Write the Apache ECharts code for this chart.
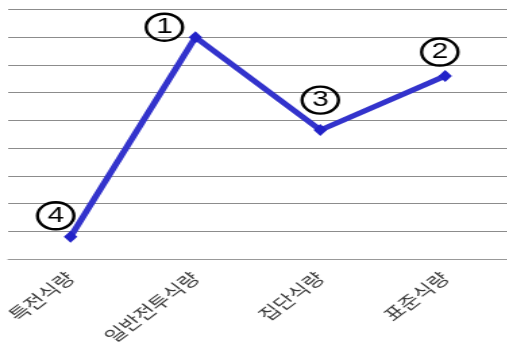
<!DOCTYPE html>
<html>
<head>
<meta charset="utf-8">
<script src="https://cdn.jsdelivr.net/npm/echarts@6/dist/echarts.min.js"></script>
<style>
html, body { margin: 0; padding: 0; background: #fff; overflow: hidden; width: 507px; height: 351px; }
#wrap { width: 507px; height: 351px; overflow: hidden; }
#chart { width: 376px; height: 351px; transform: scaleX(1.35); transform-origin: 0 0; }
</style>
</head>
<body>
<div id="wrap"><div id="chart"></div></div>
<script>
// ---- data ----
const categories = ['특전식량', '일반전투식량', '집단식량', '표준식량'];
const values = [0.8, 8.0, 4.65, 6.6];
const rankLabels = ['4', '1', '3', '2'];
const yTicks = [0, 1, 2, 3, 4, 5, 6, 7, 8, 9];

// ---- styles (positions of the rank labels, relative to each point) ----
const labelOffsets = [[-11, -21], [-23, -10], [0, -30], [-4, -24]];

const chart = echarts.init(document.getElementById('chart'), null, { renderer: 'canvas' });

const seriesData = values.map((v, i) => ({
  value: v,
  label: {
    show: true,
    position: 'inside',
    offset: labelOffsets[i],
    formatter: rankLabels[i],
    fontFamily: 'Liberation Sans, Arial, sans-serif',
    fontSize: 22,
    color: '#000',
    width: 27,
    height: 27,
    lineHeight: 27,
    align: 'center',
    verticalAlign: 'middle',
    borderColor: '#000',
    borderWidth: 1.2,
    borderRadius: 14,
    backgroundColor: 'transparent'
  }
}));

chart.setOption({
  animation: false,
  backgroundColor: '#fff',
  grid: { left: 6, right: 0, top: 9.5, bottom: 92, containLabel: false },
  xAxis: {
    type: 'category',
    data: categories,
    boundaryGap: true,
    axisLine: { show: true, lineStyle: { color: '#999', width: 1 } },
    axisTick: { show: false },
    axisLabel: {
      rotate: 45,
      margin: 16,
      fontSize: 16.5,
      color: '#3a3a3a',
      fontFamily: 'Noto Sans CJK KR, sans-serif',
      interval: 0
    },
    splitLine: { show: false }
  },
  yAxis: {
    type: 'value',
    min: yTicks[0],
    max: yTicks[yTicks.length - 1],
    interval: 1,
    axisLine: { show: false },
    axisTick: { show: false },
    axisLabel: { show: false },
    splitLine: { show: true, lineStyle: { color: '#8c8c8c', width: 1 } }
  },
  series: [{
    type: 'line',
    data: seriesData,
    symbol: 'diamond',
    symbolSize: [10, 12],
    lineStyle: { color: '#3333cc', width: 5 },
    itemStyle: { color: '#2222c8' },
    z: 3
  }]
});
</script>
</body>
</html>
